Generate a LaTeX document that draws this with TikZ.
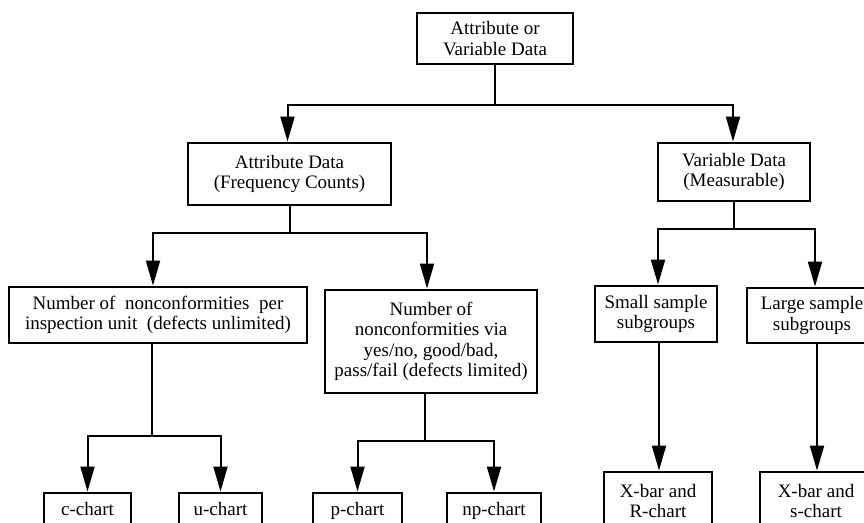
\documentclass[tikz,border=0pt]{standalone}
\usepackage{fontspec}
\setmainfont{Liberation Serif}
\usetikzlibrary{arrows.meta}
\tikzset{
  box/.style={draw, line width=2.9pt, rectangle, inner sep=0pt, align=center,
    font=\fontsize{19}{20.5}\selectfont},
  conn/.style={line width=2pt},
  arr/.style={conn, -{Triangle[length=25pt,width=14pt]}},
}
\begin{document}
\begin{tikzpicture}[x=1pt,y=-1pt]
\useasboundingbox (0,0) rectangle (864,522);
\clip (0,0) rectangle (864,522);
% boxes
\node[box, minimum width=156pt, minimum height=51pt] (top) at (495,38.5) {Attribute or\\Variable Data};
\node[box, minimum width=203pt, minimum height=62pt] (attr) at (289.5,174) {Attribute Data\\(Frequency Counts)};
\node[box, minimum width=152pt, minimum height=58pt] (var) at (734,172) {Variable Data\\(Measurable)};
\node[box, minimum width=298pt, minimum height=56pt] (n1) at (158,315) {Number of\ \ nonconformities\ \ per\\inspection unit\ \ (defects unlimited)};
\node[box, minimum width=212pt, minimum height=103pt] (n2) at (431,341.5) {Number of\\nonconformities via\\yes/no, good/bad,\\pass/fail (defects limited)};
\node[box, minimum width=122pt, minimum height=56pt] (small) at (656,314) {Small sample\\subgroups};
\node[box, minimum width=130pt, minimum height=55pt] (large) at (812,315.5) {Large sample\\subgroups};
\node[box, minimum width=87pt, minimum height=35pt, text height=13pt, text depth=4pt] (c) at (87.5,510.5) {c-chart};
\node[box, minimum width=83pt, minimum height=35pt, text height=13pt, text depth=4pt] (u) at (220.5,510.5) {u-chart};
\node[box, minimum width=89pt, minimum height=35pt, text height=13pt, text depth=4pt] (p) at (357.5,510.5) {p-chart};
\node[box, minimum width=94pt, minimum height=35pt, text height=13pt, text depth=4pt] (np) at (494,510.5) {np-chart};
\node[box, minimum width=108pt, minimum height=58pt] (xr) at (658,501) {X-bar and\\R-chart};
\node[box, minimum width=112pt, minimum height=58pt] (xs) at (816,501) {X-bar and\\s-chart};
% junctions
\coordinate (j1) at (495,105);
\coordinate (j2) at (289.5,233);
\coordinate (j3) at (734,229);
\coordinate (j4) at (152,436);
\coordinate (j5) at (425,441);
% connectors
\draw[conn] (top) -- (j1);
\draw[arr] (j1) -| ([xshift=-2pt]attr.north);
\draw[arr] (j1) -| ([xshift=-1pt]var.north);
\draw[conn] (attr) -- (j2);
\draw[arr] (j2) -| ([xshift=-5pt]n1.north);
\draw[arr] (j2) -| ([xshift=-4pt]n2.north);
\draw[conn] (var) -- (j3);
\draw[arr] (j3) -| ([xshift=2pt]small.north);
\draw[arr] (j3) -| ([xshift=3pt]large.north);
\draw[conn] (n1.south -| j4) -- (j4);
\draw[arr] (j4) -| (c.north);
\draw[arr] (j4) -| (u.north);
\draw[conn] (n2.south -| j5) -- (j5);
\draw[arr] (j5) -| (p.north);
\draw[arr] (j5) -| (np.north);
\draw[arr] ([xshift=3pt]small.south) -- ([xshift=1pt]xr.north);
\draw[arr] ([xshift=5pt]large.south) -- ([xshift=1pt]xs.north);
\end{tikzpicture}
\end{document}
